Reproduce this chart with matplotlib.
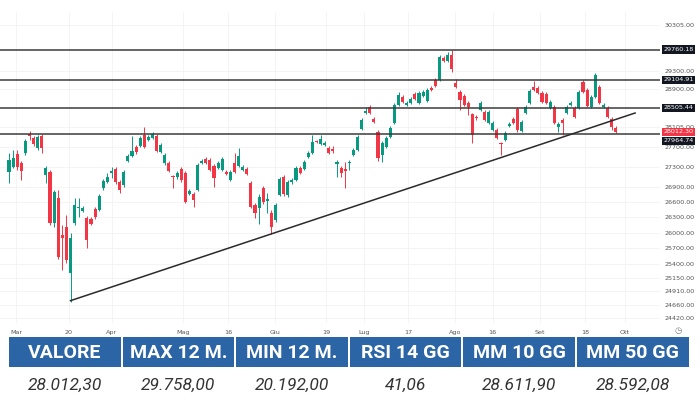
import matplotlib.pyplot as plt
import matplotlib.transforms as mtransforms
from matplotlib.patches import Rectangle
from matplotlib.ticker import FixedLocator, NullLocator

# FTSE MIB daily candles, end of Feb -> end of Sep
opens = [27190, 27290, 27560, 27370, 27580, 27960, 27880, 27680, 27920, 27130,
         27190, 26190, 26680, 25960, 26110, 25240, 26190, 26480, 26420, 26290,
         26270, 26460, 26440, 26880, 26990, 27170, 27250, 26990, 26930, 27420,
         27520, 27700, 27720, 27940, 27840, 27880, 27920, 27600, 27370, 27370,
         27110, 27090, 27250, 27170, 26760, 26760, 26840, 27370, 27460, 27440,
         27310, 27270, 27230, 27190, 27030, 27370, 27310, 27230, 27250, 26970,
         26540, 26480, 26880, 26620, 26390, 26250, 26740, 27090, 26740, 26990,
         27030, 27270, 27250, 27500, 27580, 27820, 27760, 27740, 27680, 27660,
         27350, 27270, 27250, 27370, 27540, 27640, 28070, 28400, 28530, 28280,
         28010, 27540, 27700, 27900, 28190, 28570, 28740, 28570, 28610, 28800,
         28610, 28760, 28650, 28930, 29100, 29100, 29580, 29510, 29640, 29040,
         28840, 28760, 28610, 28380, 28320, 28460, 28420, 28190, 28050, 28050,
         27780, 27840, 28130, 28280, 28490, 28030, 28400, 28610, 28950, 28930,
         28820, 28800, 28510, 28530, 28110, 28260, 28400, 28570, 28510, 28510,
         29060, 28890, 28530, 28740, 28950, 28530, 28510, 28280, 28090]
highs = [27580, 27640, 27640, 27420, 27860, 28030, 27920, 27940, 27960, 27310,
         27230, 26840, 26840, 26150, 26350, 26000, 26680, 26680, 26520, 26330,
         26310, 26500, 26760, 27050, 27170, 27290, 27290, 27030, 27230, 27560,
         27920, 27740, 27920, 28110, 27940, 28010, 27960, 27780, 27580, 27420,
         27130, 27210, 27290, 27210, 26860, 26800, 27370, 27460, 27500, 27480,
         27350, 27420, 27500, 27230, 27230, 27580, 27680, 27330, 27290, 27010,
         26580, 26760, 26910, 26780, 26440, 26580, 27090, 27130, 27030, 27070,
         27310, 27310, 27440, 27620, 27940, 27840, 27940, 27820, 27720, 27720,
         27440, 27310, 27400, 27440, 27680, 27940, 28300, 28530, 28570, 28320,
         28050, 27820, 27920, 28130, 28610, 28840, 28780, 28650, 28740, 28840,
         28870, 28890, 28930, 28970, 29140, 29640, 29620, 29700, 29758, 29120,
         28890, 28800, 28650, 28400, 28360, 28650, 28470, 28470, 28240, 28090,
         27800, 28030, 28220, 28320, 28530, 28260, 28570, 28910, 29080, 28970,
         28870, 28850, 28680, 28570, 28220, 28300, 28570, 28650, 28550, 28890,
         29100, 28930, 28780, 29250, 28990, 28610, 28550, 28320, 28130]
lows = [26970, 27270, 27230, 27030, 27540, 27840, 27720, 27640, 27580, 26970,
        26150, 26110, 25500, 25300, 25430, 24710, 26150, 26310, 26400, 25710,
        26150, 26270, 26420, 26840, 26970, 27070, 26950, 26780, 26900, 27400,
        27500, 27560, 27700, 27680, 27820, 27860, 27600, 27580, 27330, 27190,
        26880, 27050, 26990, 26580, 26740, 26500, 26820, 27350, 27350, 27210,
        26900, 27250, 27210, 27130, 27010, 27170, 27290, 27210, 27130, 26480,
        26290, 26170, 26560, 26390, 25980, 26210, 26720, 26720, 26700, 26950,
        27010, 27150, 27230, 27480, 27560, 27780, 27740, 27720, 27560, 27580,
        27090, 27090, 26880, 27230, 27520, 27620, 28050, 28380, 28380, 28190,
        27420, 27400, 27680, 27880, 28170, 28550, 28610, 28550, 28590, 28680,
        28590, 28740, 28630, 28870, 28950, 29080, 29490, 29490, 29270, 28930,
        28470, 28550, 28360, 27780, 28260, 28440, 28240, 28170, 28030, 27860,
        27540, 27820, 28110, 28170, 28010, 28010, 28380, 28590, 28870, 28800,
        28610, 28590, 28490, 28170, 28010, 27950, 28380, 28550, 28300, 28490,
        28820, 28530, 28510, 28720, 28590, 28510, 28300, 28050, 27990]
closes = [27440, 27480, 27290, 27210, 27820, 27920, 27760, 27900, 27680, 27270,
          26190, 26800, 25540, 25900, 25490, 25900, 26540, 26500, 26480, 25870,
          26170, 26310, 26720, 27010, 27090, 27210, 26990, 26840, 27190, 27520,
          27620, 27600, 27880, 27700, 27900, 27960, 27620, 27740, 27540, 27210,
          27090, 27170, 27030, 26600, 26820, 26640, 27330, 27420, 27370, 27230,
          27070, 27370, 27460, 27150, 27190, 27190, 27520, 27290, 27150, 26500,
          26390, 26700, 26600, 26660, 26110, 26540, 27050, 26760, 26990, 27030,
          27270, 27170, 27400, 27580, 27800, 27800, 27860, 27780, 27580, 27620,
          27400, 27170, 27210, 27400, 27640, 27900, 28260, 28440, 28400, 28220,
          27480, 27780, 27880, 28090, 28570, 28780, 28630, 28610, 28700, 28700,
          28820, 28850, 28890, 28890, 28970, 29600, 29510, 29640, 29340, 28950,
          28680, 28570, 28530, 27950, 28300, 28610, 28260, 28420, 28190, 27880,
          27760, 27990, 28170, 28190, 28050, 28220, 28530, 28870, 28890, 28820,
          28630, 28610, 28630, 28190, 28170, 28190, 28530, 28610, 28320, 28850,
          28850, 28550, 28740, 29210, 28610, 28570, 28320, 28110, 28012.30]

# support / resistance levels and last price
levels = [29760.18, 29104.91, 28505.44, 27964.74]
last_price = 28012.30
# trendline from the March low to the right edge
trend_x = [15, 152.7]
trend_y = [24730, 28400]

price_ticks = [30305, 29300, 28900, 28105, 27700, 27300, 26900, 26600, 26300,
               26000, 25700, 25400, 25150, 24910, 24660, 24420]
date_pos = [1.7, 14.6, 25.1, 42.4, 53.4, 64.9, 77.3, 86.6, 97.3, 108.8, 118,
            129.5, 140.5, 150.2]
date_labels = ["Mar", "20", "Apr", "Mag", "16", "Giu", "19", "Lug", "17", "Ago",
               "16", "Set", "18", "Ott"]

headers = ["VALORE", "MAX 12 M.", "MIN 12 M.", "RSI 14 GG", "MM 10 GG", "MM 50 GG"]
values = ["28.012,30", "29.758,00", "20.192,00", "41,06", "28.611,90", "28.592,08"]

up_col = "#089981"
down_col = "#f23645"

fig = plt.figure(figsize=(7, 4), dpi=100)
ax = fig.add_axes([0, 0.1925, 0.943, 0.7775])
ax.set_yscale("log")
ax.set_xlim(-2.2, 158.8)
ax.set_ylim(24326, 30596)

x = list(range(len(closes)))
cols = [up_col if c >= o else down_col for o, c in zip(opens, closes)]
ax.vlines(x, lows, highs, colors=cols, lw=0.7, zorder=2)
body_lo = [min(o, c) for o, c in zip(opens, closes)]
body_h = [abs(c - o) for o, c in zip(opens, closes)]
ax.bar(x, body_h, bottom=body_lo, width=0.75, color=cols, lw=0, zorder=3)

for lv in levels:
    ax.axhline(lv, color="#3c3c3c", lw=1.1, zorder=4)
ax.plot(trend_x, trend_y, color="#2a2a2a", lw=1.1, zorder=5)

# right axis labels
ax.yaxis.tick_right()
ax.yaxis.set_major_locator(FixedLocator(price_ticks))
ax.yaxis.set_minor_locator(NullLocator())
ax.set_yticklabels([f"{p:.2f}" for p in price_ticks])
ax.tick_params(axis="y", length=0, labelsize=4.6, labelcolor="#555555", pad=3)
ax.set_xticks(date_pos)
ax.set_xticklabels(date_labels)
ax.tick_params(axis="x", length=0, labelsize=4.6, labelcolor="#555555", pad=5)
ax.grid(True, color="#f3f3f3", lw=0.6)
ax.set_axisbelow(True)
for s in ax.spines.values():
    s.set_visible(False)

trans = mtransforms.blended_transform_factory(ax.transAxes, ax.transData)
for lv in levels:
    off = -7 if lv == 27964.74 else 0
    ax.annotate(f"{lv:.2f}", xy=(1.0, lv), xycoords=trans, xytext=(3, off),
                textcoords="offset pixels", ha="left", va="center", fontsize=4.6,
                color="white", zorder=10, annotation_clip=False,
                bbox=dict(boxstyle="square,pad=0.25", fc="#131722", ec="none"))
ax.annotate(f"{last_price:.2f}", xy=(1.0, last_price), xycoords=trans,
            xytext=(3, 0), textcoords="offset pixels", ha="left", va="center",
            fontsize=4.6, color="white", zorder=11, annotation_clip=False,
            bbox=dict(boxstyle="square,pad=0.25", fc=down_col, ec="none"))

# small clock icon in the bottom right corner
fig.text(678 / 700, 1 - 331 / 400, "\u25f7", ha="center", va="center",
         fontsize=6, color="#777777")

# summary table
axt = fig.add_axes([0, 0, 1, 0.1575])
axt.set_xlim(0, 700)
axt.set_ylim(63, 0)
axt.axis("off")
pitch = 113.6
for k, (h, v) in enumerate(zip(headers, values)):
    x0 = 9 + k * pitch
    axt.add_patch(Rectangle((x0, 0), 111.5, 30, fc="#2c65a6", ec="none"))
    axt.text(x0 + 55.75, 15.5, h, ha="center", va="center", color="white",
             fontsize=14, fontweight="bold", family="Roboto")
    axt.text(x0 + 55.75, 48, v, ha="center", va="center", color="#333333",
             fontsize=12.5, style="italic", family="Roboto")

fig.savefig("out.png", dpi=100)
